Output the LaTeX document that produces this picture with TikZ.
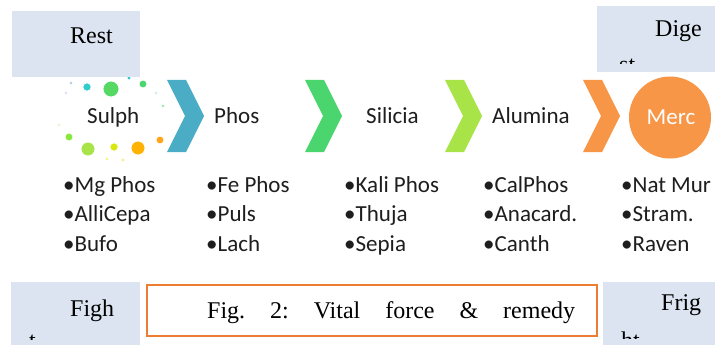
\documentclass[tikz,border=0pt]{standalone}
\usepackage{fontspec}
\setmainfont{Liberation Serif}
\newfontfamily\calfont{Carlito}

\definecolor{boxblue}{HTML}{DBE4F0}
\definecolor{txtgray}{HTML}{1E1E1E}
\definecolor{chevblue}{HTML}{4BACC6}
\definecolor{chevgreen}{HTML}{4AD56E}
\definecolor{chevlime}{HTML}{A8E447}
\definecolor{chevorange}{HTML}{F79646}
\definecolor{capline}{HTML}{ED7D31}

\tikzset{
  serifword/.style={anchor=base west, inner sep=0pt, text=black,
    font=\fontsize{24}{28}\selectfont},
  calword/.style={anchor=base west, inner sep=0pt, text=txtgray,
    font=\calfont\fontsize{23}{27}\selectfont},
  notebox/.style={fill=boxblue, draw=none},
  pics/chevron/.style={code={
    \fill[#1] (0,0) -- (19,0) -- (37,36) -- (19,72) -- (0,72) -- (18,36) -- cycle;}},
  spark/.style={draw=white, line width=0.8pt}
}

\begin{document}
\begin{tikzpicture}[x=1pt,y=-1pt]
\useasboundingbox (0,0) rectangle (715,345);
\fill[white] (0,0) rectangle (715,345);

% scattered dots around the first step
\fill[spark, fill=chevblue!70!cyan] (129,78) circle (2);
\fill[spark, fill=cyan!60!blue!60] (71,83) circle (1.6);
\fill[spark, fill=teal!50!cyan!80] (87,87) circle (4.2);
\fill[spark, fill=chevgreen!90!lime] (111,89) circle (8);
\fill[spark, fill=chevgreen] (143,84) circle (4);
\fill[spark, fill=cyan!50!blue!60] (66,93) circle (1.4);
\fill[spark, fill=chevgreen] (156,93) circle (1.4);
\fill[spark, fill=chevgreen] (163,106) circle (1.8);
\fill[spark, fill=chevlime] (59,125) circle (1.4);
\fill[spark, fill=chevlime!80!green] (69,137) circle (4);
\fill[spark, fill=chevlime] (88,149) circle (7);
\fill[spark, fill=yellow!85!green] (114,147) circle (4.2);
\fill[spark, fill=orange!60!yellow] (138,148) circle (7);
\fill[spark, fill=orange!80!yellow!90] (160,140) circle (4);
\fill[spark, fill=yellow!80!lime] (107,159) circle (1.6);
\fill[spark, fill=yellow!80!orange] (123,160) circle (1.6);

% corner text boxes
\fill[notebox] (12,11) rectangle (140,77);
\node[serifword] (rest) at (70,44) {Rest};

\fill[notebox] (597,6) rectangle (715,72);
\node[serifword] (dige) at (655,37) {Dige};
\begin{scope}
  \clip (597,6) rectangle (715,64);
  \node[serifword] (digeb) at (619,73) {st};
\end{scope}

\fill[notebox] (11,282) rectangle (140,345);
\node[serifword] (figh) at (70,316) {Figh};
\begin{scope}
  \clip (11,282) rectangle (140,339);
  \node[serifword] (fighb) at (29,348) {t};
\end{scope}

\fill[notebox] (603,282) rectangle (715,345);
\node[serifword] (frig) at (661,310) {Frig};
\begin{scope}
  \clip (603,282) rectangle (715,338);
  \node[serifword] (frigb) at (621,348) {ht};
\end{scope}

% caption frame
\draw[capline, line width=1.2pt] (147,285) rectangle (597,336);
\node[serifword] (caption) at (207,318)
  {\hbox to 368pt{Fig.\hfill 2:\hfill Vital\hfill force\hfill \&\hfill remedy}};

% process chevrons
\pic at (167,80) {chevron=chevblue};
\pic at (305,80) {chevron=chevgreen};
\pic at (445,80) {chevron=chevlime};
\pic at (583,80) {chevron=chevorange};

\fill[chevorange] (670,117.5) circle (41);
\node[calword, text=white, anchor=base] (merc) at (671,124) {Merc};

\node[calword] (sulph) at (87,123) {Sulph};
\node[calword] (phos) at (214,123) {Phos};
\node[calword] (silicia) at (366,123) {Silicia};
\node[calword] (alumina) at (492,123) {Alumina};

% remedy lists
\foreach \x/\a/\b/\c [count=\i] in {
  63/Mg Phos/AlliCepa/Bufo,
  206/Fe Phos/Puls/Lach,
  344/Kali Phos/Thuja/Sepia,
  483/CalPhos/Anacard./Canth,
  621/Nat Mur/Stram./Raven} {
  \node[calword] (item\i a) at (\x,192) {•\a};
  \node[calword] (item\i b) at (\x,221.5) {•\b};
  \node[calword] (item\i c) at (\x,251) {•\c};
}
\end{tikzpicture}
\end{document}
